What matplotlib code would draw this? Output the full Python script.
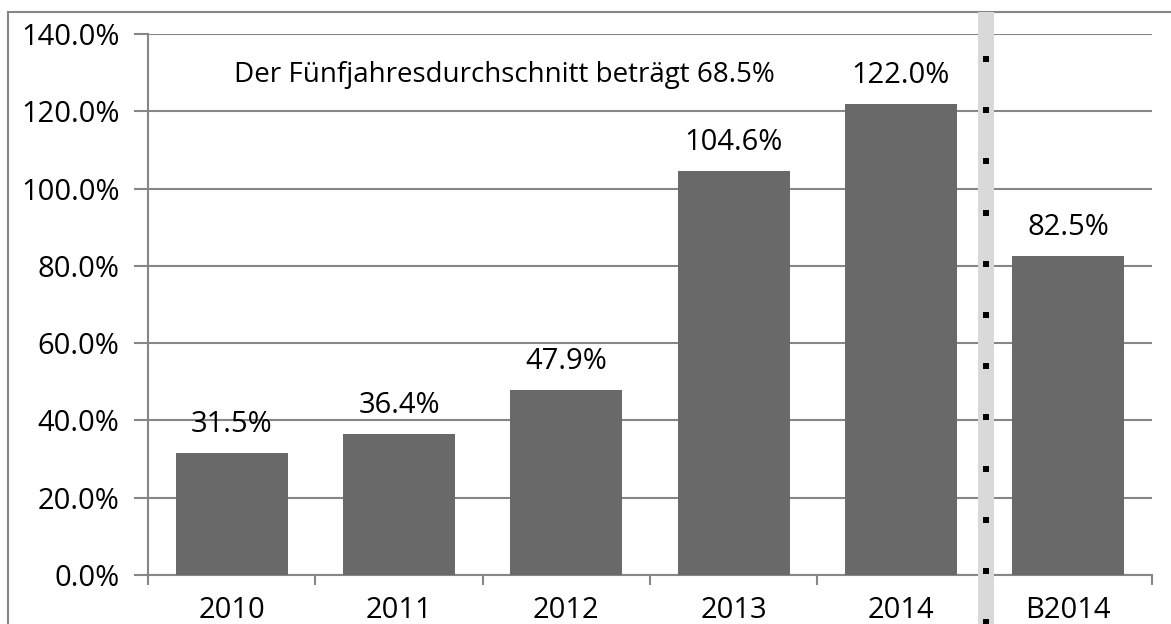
import matplotlib.pyplot as plt
from matplotlib.patches import Rectangle
import numpy as np

plt.rcParams['font.family'] = ['Open Sans', 'DejaVu Sans']

categories = ['2010', '2011', '2012', '2013', '2014', 'B2014']
values = [31.5, 36.4, 47.9, 104.6, 122.0, 82.5]
note = 'Der Fünfjahresdurchschnitt beträgt 68.5%'

W, H = 1171, 624
fig = plt.figure(figsize=(W / 100, H / 100), dpi=100)
ax = fig.add_axes([148 / W, 1 - 575 / H, (1152 - 148) / W, (575 - 34) / H])

grey = '#868686'
x = np.arange(len(categories))
bars = ax.bar(x, values, width=0.67, color='#696969', zorder=3)

for xi, v in zip(x, values):
    ax.annotate(f'{v:.1f}%', (xi, v), xytext=(0, 10), textcoords='offset points',
                ha='center', va='bottom', fontsize=21)

ax.text(1.63, 129.5, note, ha='center', va='center', fontsize=20)

ax.set_xlim(-0.5, len(categories) - 0.5)
ax.set_ylim(0, 140)
ax.set_yticks(np.arange(0, 141, 20))
ax.set_yticklabels([f'{t:.1f}%' for t in np.arange(0, 141, 20)])
ax.set_xticks(x)
ax.set_xticklabels(categories)
ax.set_xticks(np.arange(-0.5, len(categories), 1), minor=True)

ax.tick_params(axis='y', length=10, width=1.5, color=grey, pad=10.5, labelsize=21)
ax.tick_params(axis='x', which='major', length=0, pad=15, labelsize=21)
ax.tick_params(axis='x', which='minor', length=7, width=1.5, color=grey)

ax.grid(axis='y', color=grey, linewidth=1.5, zorder=0)
ax.set_axisbelow(True)
for s in ['top', 'right']:
    ax.spines[s].set_visible(False)
for s in ['left', 'bottom']:
    ax.spines[s].set_color(grey)
    ax.spines[s].set_linewidth(1.5)

# outer chart frame (clipped at right and bottom)
fig.patches.append(Rectangle((8 / W, -0.2), 1.2, 1.2 - 12 / H, transform=fig.transFigure,
                             fill=False, edgecolor=grey, linewidth=1.5, zorder=1))

# separator band with dotted marks
fig.patches.append(Rectangle((978 / W, 0), 16 / W, 1 - 12 / H, transform=fig.transFigure,
                             facecolor='#d9d9d9', edgecolor='none', zorder=5))
for yp in np.arange(59, 624, 51.2):
    fig.patches.append(Rectangle((983 / W, 1 - (yp + 3) / H), 6 / W, 6 / H,
                                 transform=fig.transFigure, facecolor='black',
                                 edgecolor='none', zorder=6))

fig.savefig('out.png', dpi=100)
